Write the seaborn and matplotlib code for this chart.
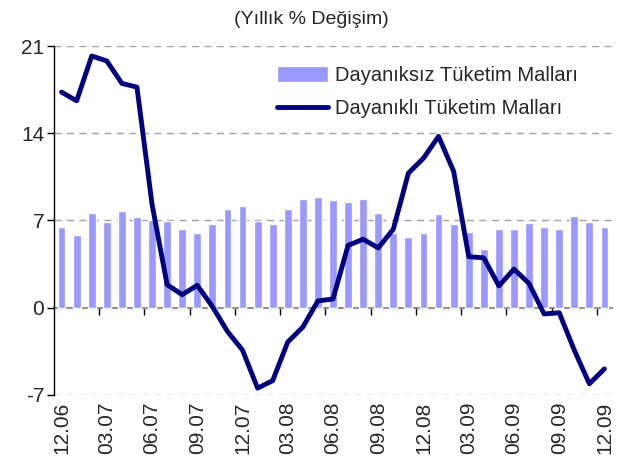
import numpy as np
import pandas as pd
import matplotlib
matplotlib.use("Agg")
import matplotlib.pyplot as plt
import seaborn as sns

months = ["12.06", "01.07", "02.07", "03.07", "04.07", "05.07", "06.07", "07.07", "08.07",
          "09.07", "10.07", "11.07", "12.07", "01.08", "02.08", "03.08", "04.08", "05.08",
          "06.08", "07.08", "08.08", "09.08", "10.08", "11.08", "12.08", "01.09", "02.09",
          "03.09", "04.09", "05.09", "06.09", "07.09", "08.09", "09.09", "10.09", "11.09",
          "12.09"]
nondurable = [6.5, 5.8, 7.6, 6.9, 7.8, 7.3, 7.05, 6.95, 6.35, 6.0, 6.75, 7.95, 8.2, 6.95,
              6.7, 7.95, 8.75, 8.85, 8.65, 8.45, 8.75, 7.6, 6.0, 5.7, 6.0, 7.55, 6.7, 6.1,
              4.75, 6.35, 6.35, 6.8, 6.5, 6.35, 7.4, 6.9, 6.5]
durable = [17.3, 16.6, 20.2, 19.8, 18.0, 17.7, 8.3, 1.85, 1.05, 1.8, 0.1, -1.9, -3.4, -6.45,
           -5.85, -2.75, -1.55, 0.55, 0.7, 5.0, 5.5, 4.8, 6.3, 10.8, 12.0, 13.75, 10.95, 4.1,
           4.0, 1.75, 3.1, 1.95, -0.5, -0.4, -3.4, -6.1, -4.9]
yticks = [-7, 0, 7, 14, 21]
label_bar = "Dayanıksız Tüketim Malları"
label_line = "Dayanıklı Tüketim Malları"
title = "(Yıllık % Değişim)"

sns.set_style("white")
plt.rcParams["font.family"] = ["Liberation Sans", "DejaVu Sans"]

n = len(months)
df = pd.DataFrame({"Ay": months, "Dayaniksiz": nondurable, "Dayanikli": durable,
                   "i": np.arange(n)})

fig = plt.figure(figsize=(6.23, 4.68), dpi=100)
ax = fig.add_axes([0.0867, 0.156, 0.8956, 0.7457])

sns.barplot(data=df, x="Ay", y="Dayaniksiz", order=months, color="#9999FF",
            saturation=1, width=0.52, ax=ax, label=label_bar, zorder=2)
sns.lineplot(data=df, x="i", y="Dayanikli", color="#000080", lw=3.5, ax=ax,
             label=label_line, zorder=3)

ax.set_xlim(-0.5, n - 0.5)
ax.set_ylim(yticks[0], yticks[-1])
ax.set_yticks(yticks)
ax.set_yticklabels([str(t) for t in yticks], fontsize=15)
ax.set_xticks(np.arange(0, n, 3))
ax.set_xticklabels(months[::3], rotation=90, fontsize=15)
ax.tick_params(axis="x", length=0, pad=5)
ax.tick_params(axis="y", left=True, direction="out", length=5, width=1, color="black", pad=2)
ax.set_xlabel("")
ax.set_ylabel("")

ax.yaxis.grid(True, linestyle=(0, (5, 4)), color="#A0A0A0", lw=1)
ax.set_axisbelow(True)

for s in ["top", "right", "bottom"]:
    ax.spines[s].set_visible(False)
ax.spines["left"].set_color("black")
ax.spines["left"].set_linewidth(1)

zero_frac = (0 - yticks[0]) / (yticks[-1] - yticks[0])
sec = ax.secondary_xaxis(zero_frac)
sec.set_xticks(np.arange(2.5, n - 1, 3))
sec.set_xticklabels([])
sec.tick_params(direction="out", length=5, width=1, color="black")
sec.spines["bottom"].set_color("#808080")
sec.spines["bottom"].set_linewidth(1.3)
sec.spines["bottom"].set_zorder(4)

handles, labels = ax.get_legend_handles_labels()
order = [labels.index(label_bar), labels.index(label_line)]
ax.legend([handles[i] for i in order], [labels[i] for i in order],
          loc="upper right", bbox_to_anchor=(0.953, 0.965), frameon=False, fontsize=14.5,
          handlelength=2.5, handleheight=0.85, handletextpad=0.35, labelspacing=0.7,
          borderaxespad=0)

fig.text(0.5, 0.958, title, ha="center", va="center", fontsize=14)

fig.savefig("out.png", dpi=100)
